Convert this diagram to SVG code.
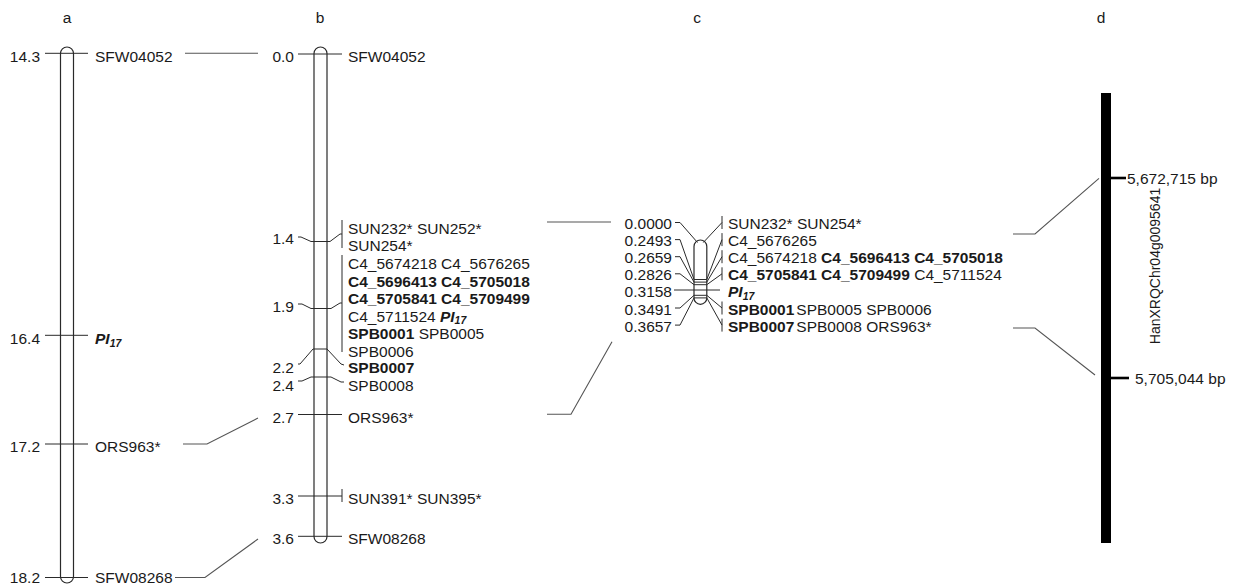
<svg xmlns="http://www.w3.org/2000/svg" width="1238" height="585" viewBox="0 0 1238 585">
<style>
text{font-family:"Liberation Sans",Arial,sans-serif;font-size:15.5px;fill:#1a1a1a}
.b{font-weight:bold}
.pi{font-weight:bold;font-style:italic}
.sub{font-size:10.5px}
.e{text-anchor:end}
.m{text-anchor:middle}
.chr{fill:#fff;stroke:#2a2a2a;stroke-width:1.2}
.ln{stroke:#2a2a2a;stroke-width:1;fill:none}
.cn{stroke:#555;stroke-width:1.1;fill:none}
.tk{stroke:#000;stroke-width:2.6}
</style>
<rect width="1238" height="585" fill="#fff"/>

<g id="chr-a">
<text class="m" x="67" y="23">a</text>
<rect class="chr" x="60.5" y="47" width="13" height="536" rx="6.5"/>
<line class="ln" x1="45" y1="53.3" x2="88" y2="53.3"/>
<text class="e" x="40" y="61.6">14.3</text><text x="95" y="61.6">SFW04052</text>
<line class="ln" x1="45" y1="335.3" x2="88" y2="335.3"/>
<text class="e" x="40" y="343.6">16.4</text><text x="95" y="343.6" class="pi">PI<tspan class="sub" dy="3">17</tspan></text>
<line class="ln" x1="45" y1="444" x2="88" y2="444"/>
<text class="e" x="40" y="452.3">17.2</text><text x="95" y="452.3">ORS963*</text>
<line class="ln" x1="45" y1="577.5" x2="88" y2="577.5"/>
<text class="e" x="40" y="583">18.2</text><text x="95" y="583">SFW08268</text>
</g>

<g id="chr-b">
<text class="m" x="320" y="23">b</text>
<rect class="chr" x="314" y="47" width="13" height="496" rx="6.5"/>
<line class="ln" x1="298" y1="54" x2="342" y2="54"/>
<text class="e" x="294" y="62.3">0.0</text><text x="348" y="62.3">SFW04052</text>
<line class="ln" x1="314" y1="241.5" x2="327" y2="241.5"/>
<polyline class="ln" points="298,237 301,237 311,241.5 314,241.5"/>
<polyline class="ln" points="327,241.5 330,241.5 340,234 342,234"/>
<line class="ln" x1="342" y1="220" x2="342" y2="248"/>
<text class="e" x="294" y="244.3">1.4</text>
<text x="348" y="233.5">SUN232* SUN252*</text>
<text x="348" y="251">SUN254*</text>
<line class="ln" x1="314" y1="308.5" x2="327" y2="308.5"/>
<polyline class="ln" points="298,304 302,304 311,308.5 314,308.5"/>
<polyline class="ln" points="327,308.5 331,308.5 340,303 342,303"/>
<line class="ln" x1="342" y1="255" x2="342" y2="352"/>
<text class="e" x="294" y="311.7">1.9</text>
<text x="348" y="269">C4_5674218 C4_5676265</text>
<text x="348" y="286.5" class="b">C4_5696413 C4_5705018</text>
<text x="348" y="304" class="b">C4_5705841 C4_5709499</text>
<text x="348" y="321.5">C4_5711524 <tspan class="pi">PI<tspan class="sub" dy="2.5">17</tspan></tspan></text>
<text x="348" y="339"><tspan class="b">SPB0001</tspan> SPB0005</text>
<text x="348" y="356.5">SPB0006</text>
<line class="ln" x1="314" y1="349" x2="327" y2="349"/>
<polyline class="ln" points="298,364 300,364 313,349 314,349"/>
<polyline class="ln" points="327,349 341,364 344,365"/>
<text class="e" x="294" y="373">2.2</text>
<text x="348" y="373" class="b">SPB0007</text>
<line class="ln" x1="314" y1="377" x2="327" y2="377"/>
<polyline class="ln" points="298,381 302,381 311,377 314,377"/>
<polyline class="ln" points="327,377 331,377 341,382 344,382"/>
<text class="e" x="294" y="390.5">2.4</text>
<text x="348" y="390.5">SPB0008</text>
<line class="ln" x1="298" y1="414.5" x2="342" y2="414.5"/>
<text class="e" x="294" y="422.8">2.7</text><text x="348" y="422.8">ORS963*</text>
<line class="ln" x1="298" y1="496" x2="342" y2="496"/>
<line class="ln" x1="342" y1="489" x2="342" y2="502"/>
<text class="e" x="294" y="503.8">3.3</text><text x="348" y="503.8">SUN391* SUN395*</text>
<line class="ln" x1="298" y1="536.3" x2="342" y2="536.3"/>
<text class="e" x="294" y="544">3.6</text><text x="348" y="544">SFW08268</text>
</g>

<g id="chr-c">
<text class="m" x="697" y="23">c</text>
<rect class="chr" x="694" y="240" width="12.8" height="64.3" rx="6.4"/>
<g class="ln">
<line x1="694" y1="279.5" x2="706.8" y2="279.5"/>
<line x1="694" y1="282.1" x2="706.8" y2="282.1"/>
<line x1="694" y1="284.7" x2="706.8" y2="284.7"/>
<line x1="674" y1="290" x2="720" y2="290"/>
<line x1="694" y1="295.3" x2="706.8" y2="295.3"/>
<line x1="694" y1="297.9" x2="706.8" y2="297.9"/>
<polyline points="675,222.5 680,222.5 697.5,242.5"/>
<polyline points="675,239.6 680,239.6 694,279.5"/>
<polyline points="675,256.7 680,256.7 694,282.1"/>
<polyline points="675,273.8 680,273.8 694,284.7"/>
<polyline points="675,308 680,308 694,295.3"/>
<polyline points="675,325.1 680,325.1 694,297.9"/>
<line x1="703.3" y1="242.5" x2="722" y2="222.5"/>
<line x1="706.8" y1="279.5" x2="722" y2="239.6"/>
<line x1="706.8" y1="282.1" x2="722" y2="256.7"/>
<line x1="706.8" y1="284.7" x2="722" y2="273.8"/>
<line x1="706.8" y1="295.3" x2="722" y2="308"/>
<line x1="706.8" y1="297.9" x2="722" y2="325.1"/>
<line x1="722" y1="216" x2="722" y2="229"/>
<line x1="722" y1="233.1" x2="722" y2="246.1"/>
<line x1="722" y1="250.2" x2="722" y2="263.2"/>
<line x1="722" y1="267.3" x2="722" y2="280.3"/>
<line x1="722" y1="301.5" x2="722" y2="314.5"/>
<line x1="722" y1="318.6" x2="722" y2="331.6"/>
</g>
<text class="e" x="672" y="229">0.0000</text>
<text class="e" x="672" y="246.1">0.2493</text>
<text class="e" x="672" y="263.2">0.2659</text>
<text class="e" x="672" y="280.3">0.2826</text>
<text class="e" x="672" y="297.4">0.3158</text>
<text class="e" x="672" y="314.5">0.3491</text>
<text class="e" x="672" y="331.6">0.3657</text>
<text x="728" y="229">SUN232* SUN254*</text>
<text x="728" y="246.1">C4_5676265</text>
<text x="728" y="263.2">C4_5674218 <tspan class="b">C4_5696413 C4_5705018</tspan></text>
<text x="728" y="280.3"><tspan class="b">C4_5705841 C4_5709499</tspan> C4_5711524</text>
<text x="728" y="297.4" class="pi">PI<tspan class="sub" dy="2.5">17</tspan></text>
<text x="728" y="314.5"><tspan class="b">SPB0001</tspan><tspan dx="2">SPB0005 SPB0006</tspan></text>
<text x="728" y="331.6"><tspan class="b">SPB0007</tspan><tspan dx="2">SPB0008 ORS963*</tspan></text>
</g>

<g id="chr-d">
<text class="m" x="1101" y="23">d</text>
<rect x="1101" y="93" width="10" height="450" fill="#000"/>
<line class="tk" x1="1111" y1="178" x2="1126" y2="178"/>
<text x="1127" y="183.5">5,672,715 bp</text>
<line class="tk" x1="1111" y1="378" x2="1129" y2="378"/>
<text x="1135" y="383.5">5,705,044 bp</text>
<text class="m" transform="translate(1160,266) rotate(-90)" style="font-size:14px">HanXRQChr04g0095641</text>
</g>

<g id="connectors" class="cn">
<line x1="185" y1="53.3" x2="258" y2="53.3"/>
<polyline points="183,444 207,444 258,418"/>
<polyline points="175,577.5 205,577.5 258,539"/>
<line x1="547" y1="222" x2="611" y2="222"/>
<polyline points="547,414.3 571,414.3 612,341.7"/>
<polyline points="1013,234 1035,234 1099,178.3"/>
<polyline points="1013,328 1035,328 1095,375"/>
</g>
</svg>
